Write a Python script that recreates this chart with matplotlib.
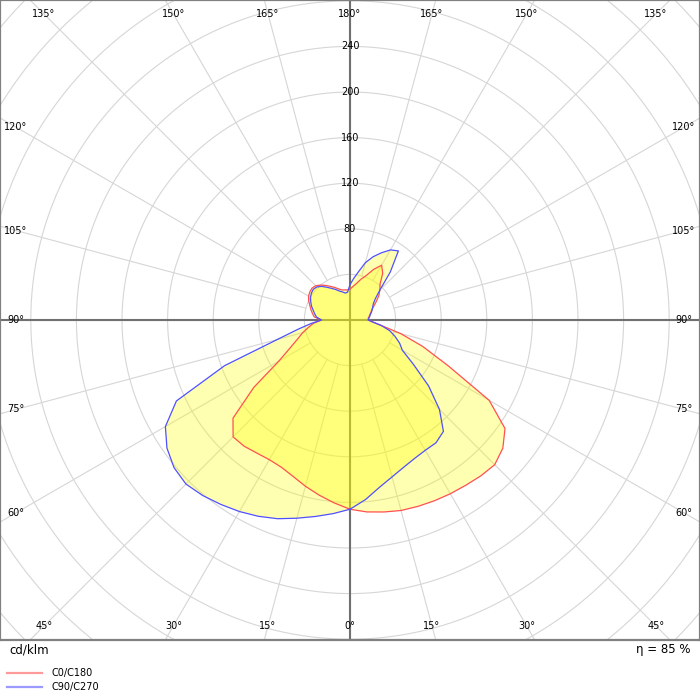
import numpy as np
import matplotlib
matplotlib.use("Agg")
import matplotlib.pyplot as plt
from matplotlib.lines import Line2D

# luminous intensity (cd/klm), gamma 0..180 in 5 deg steps
gamma = np.arange(0, 181, 5)
c0 = [166, 169, 171, 173, 174, 175, 176, 177, 178.5, 179.5,
      175, 166, 141, 95, 68, 46, 28, 20, 16, 16,
      17, 18, 19.5, 21, 24, 28, 33, 37, 41, 50,
      55.5, 49, 41.5, 37, 32.5, 29.5, 27]
c180 = [166, 161, 156, 151, 146, 142.5, 141.5, 142.5, 144.5, 145,
        134, 103, 72, 58, 49, 43, 37, 32, 25, 31.5,
        33.5, 35.5, 37.5, 40, 42, 43, 43.5, 42.5, 40, 37,
        34, 31.5, 29, 27.3, 26.8, 26.5, 27]
c90 = [166, 158, 149, 142.5, 137.5, 134, 132, 131.5, 127.5, 111,
       90, 68, 53, 48, 42, 36, 28, 20, 16, 16.5,
       17.5, 18.5, 20, 21.5, 23, 25, 29, 37, 55, 74,
       71, 65, 59, 52, 43, 36.5, 31]
c270 = [166, 170.5, 175, 180, 185.5, 190, 194, 197.5, 201, 203.5,
        201.5, 196, 187, 168, 117, 66, 46, 34, 25, 29.5,
        31.5, 33.5, 36, 38, 40, 41.3, 42, 41, 38.5, 35,
        32, 29.5, 27, 25.5, 24, 24.5, 31]
ring_labels = [80, 120, 160, 200, 240]
angle_ticks = list(range(0, 181, 15))
eta = 85

PX = 1.14          # pixels per cd/klm
W, H = 700, 640    # plot frame in pixels
CX, CY = 350, 320  # centre of diagram in pixels


def plane_xy(right, left):
    g = np.radians(gamma)
    r = np.asarray(right)
    l = np.asarray(left)
    x = np.concatenate([r * np.sin(g), -l[::-1] * np.sin(g[::-1])])
    y = np.concatenate([-r * np.cos(g), -l[::-1] * np.cos(g[::-1])])
    return x, y


def label_pos(g, side):
    """Point where the radial line meets the frame, a bit inside."""
    d = np.radians(g)
    dx, dy = side * np.sin(d), -np.cos(d)
    xl, xr = -CX / PX + 16 / PX, (W - CX) / PX - 16 / PX
    yb, yt = -(H - CY) / PX + 14 / PX, CY / PX - 14 / PX
    ts = []
    if dx > 1e-9:
        ts.append(xr / dx)
    if dx < -1e-9:
        ts.append(xl / dx)
    if dy > 1e-9:
        ts.append(yt / dy)
    if dy < -1e-9:
        ts.append(yb / dy)
    t = min(ts)
    return t * dx, t * dy


fig = plt.figure(figsize=(7, 7), dpi=100)
ax = fig.add_axes([0, 60 / 700, 1, 640 / 700])
ax.set_xlim(-CX / PX, (W - CX) / PX)
ax.set_ylim(-(H - CY) / PX, CY / PX)
ax.set_xticks([])
ax.set_yticks([])
for s in ax.spines.values():
    s.set_color("#808080")
    s.set_linewidth(1.6)

# grid
th = np.linspace(0, 2 * np.pi, 400)
for r in range(40, 481, 40):
    ax.plot(r * np.cos(th), r * np.sin(th), color="#d6d6d6", lw=0.8, zorder=1)
for a in range(0, 360, 15):
    t = np.radians(a)
    ax.plot([40 * np.cos(t), 600 * np.cos(t)], [40 * np.sin(t), 600 * np.sin(t)],
            color="#d6d6d6", lw=0.8, zorder=1)
ax.axhline(0, color="#707070", lw=1.5, zorder=2)
ax.axvline(0, color="#707070", lw=1.5, zorder=2)

# curves
x1, y1 = plane_xy(c0, c180)
x2, y2 = plane_xy(c90, c270)
ax.fill(x1, y1, color="#ffff00", alpha=0.3, lw=0, zorder=3)
ax.fill(x2, y2, color="#ffff00", alpha=0.3, lw=0, zorder=3)
ax.plot(x1, y1, color="#ff5050", lw=0.9, zorder=4)
ax.plot(x2, y2, color="#5050ff", lw=0.9, zorder=4)

# labels
for r in ring_labels:
    ax.text(0, r, str(r), ha="center", va="center", fontsize=7, zorder=5)
for g in angle_ticks:
    sides = [1] if g in (0, 180) else [-1, 1]
    for sd in sides:
        lx, ly = label_pos(g, sd)
        ax.text(lx, ly, f"{g}°", ha="center", va="center", fontsize=7, zorder=5)

fig.text(9 / 700, 1 - 650 / 700, "cd/klm", ha="left", va="center", fontsize=8.5)
fig.text(690 / 700, 1 - 650 / 700, f"η = {eta} %", ha="right", va="center", fontsize=8.5)

legend = [("C0/C180", "#ff9a9a", 673), ("C90/C270", "#9a9aff", 687)]
for name, col, ypx in legend:
    yf = 1 - ypx / 700
    fig.add_artist(Line2D([7 / 700, 42 / 700], [yf, yf], color=col, lw=1.6,
                          transform=fig.transFigure))
    fig.text(51 / 700, yf, name, ha="left", va="center", fontsize=7)

fig.savefig("out.png", dpi=100)
